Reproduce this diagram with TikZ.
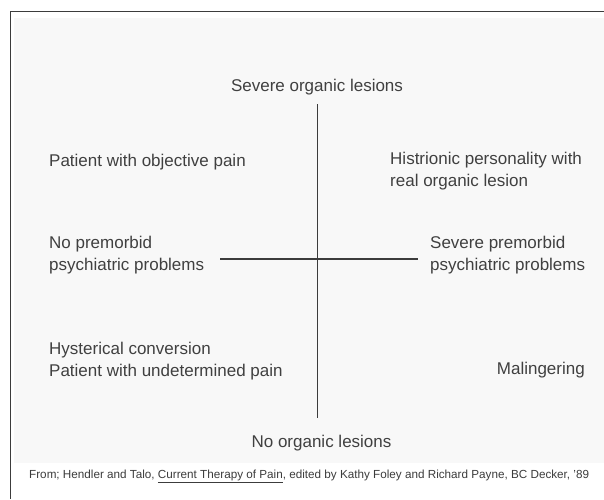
\documentclass[tikz,border=0pt]{standalone}
\usepackage{fontspec}
\setmainfont{Liberation Sans}
\definecolor{inkgray}{HTML}{404040}
\definecolor{linegray}{HTML}{3C3C3C}
\definecolor{scanbg}{HTML}{F8F8F8}
\begin{document}
\begin{tikzpicture}[x=1pt,y=-1pt,
  lbl/.style={inner sep=0pt,text=inkgray,font=\fontsize{17}{21.5}\selectfont,align=left},
  lblr/.style={inner sep=0pt,text=inkgray,font=\fontsize{17}{21.5}\selectfont,align=right},
  axis/.style={draw=linegray,line width=1.3pt},
  frameline/.style={draw=linegray,line width=1pt}]
\useasboundingbox (0,0) rectangle (604,499);
\fill[white] (0,0) rectangle (604,499);
\fill[scanbg] (14,18) rectangle (604,463);
% frame
\coordinate (ftr) at (604,11);
\coordinate (ftl) at (10,11);
\coordinate (fbl) at (10,499);
\draw[frameline] (ftr) -- (ftl) -- (fbl);
% axes
\coordinate (vt) at (317.5,104);
\coordinate (vb) at (317.5,418);
\coordinate (hl) at (220,259);
\coordinate (hr) at (418,259);
\draw[axis] (vt) -- (vb);
\draw[axis] (hl) -- (hr);
% labels (base anchor of multi-line nodes = last line)
\node[lbl,anchor=base] (top) at (317,91) {Severe organic lesions};
\node[lbl,anchor=base] (bot) at (321.5,447) {No organic lesions};
\node[lbl,anchor=base west] (q1) at (49,166) {Patient with objective pain};
\node[lbl,anchor=base west] (q2) at (390,186) {Histrionic personality with\\real organic lesion};
\node[lbl,anchor=base west] (lft) at (49,270) {No premorbid\\psychiatric problems};
\node[lbl,anchor=base west] (rgt) at (430,270) {Severe premorbid\\psychiatric problems};
\node[lbl,anchor=base west] (q3) at (49,376) {Hysterical conversion\\Patient with undetermined pain};
\node[lblr,anchor=base east] (q4) at (585,374) {Malingering};
\node[inner sep=0pt,text=linegray,font=\fontsize{11.7}{14}\selectfont,anchor=base west] (cap) at (29,478)
  {From; Hendler and Talo, \underline{Current Therapy of Pain}, edited by Kathy Foley and Richard Payne, BC Decker, '89};
\end{tikzpicture}
\end{document}
